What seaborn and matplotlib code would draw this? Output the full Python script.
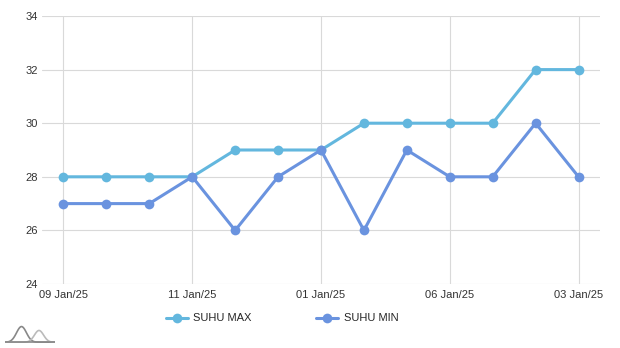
import numpy as np
import pandas as pd
import matplotlib
matplotlib.use("Agg")
import matplotlib.pyplot as plt
import seaborn as sns

labels = ["09 Jan/25", "", "", "11 Jan/25", "", "", "01 Jan/25", "", "", "06 Jan/25", "", "", "03 Jan/25"]
suhu_max = [28, 28, 28, 28, 29, 29, 29, 30, 30, 30, 30, 32, 32]
suhu_min = [27, 27, 27, 28, 26, 28, 29, 26, 29, 28, 28, 30, 28]
series_names = ["SUHU MAX", "SUHU MIN"]
colors = ["#63b7de", "#6a93df"]

sns.set_theme(style="white")
plt.rcParams['font.family'] = ['Liberation Sans', 'DejaVu Sans']

idx = list(range(len(labels)))
df = pd.DataFrame({
    "x": idx * 2,
    "y": suhu_max + suhu_min,
    "s": [series_names[0]] * len(idx) + [series_names[1]] * len(idx),
})

fig = plt.figure(figsize=(6.2, 3.48), dpi=100)
ax = fig.add_axes([42/620, 64/348, 558/620, 268/348])

sns.lineplot(data=df, x="x", y="y", hue="s", palette=colors, marker="o",
             markersize=7, markeredgewidth=0, linewidth=2.2, ax=ax, legend=False)

ax.set_xlim(-0.5, 12.5)
ax.set_ylim(24, 34)
ax.set_yticks(range(24, 35, 2))
tick_pos = [i for i, l in enumerate(labels) if l]
ax.set_xticks(tick_pos)
ax.set_xticklabels([labels[i] for i in tick_pos])
ax.set_xlabel("")
ax.set_ylabel("")
ax.grid(True, color="#d9d9d9", linewidth=0.8)
ax.set_axisbelow(True)
for sp in ax.spines.values():
    sp.set_visible(False)
ax.tick_params(axis="both", length=0, labelsize=8, colors="#333333", pad=3)
ax.tick_params(axis="x", pad=4)

from matplotlib.lines import Line2D
handles = [Line2D([0], [0], color=c, linewidth=2.2, marker="o", markersize=7, markeredgewidth=0)
           for c in colors]
fig.legend(handles, series_names, loc="center", bbox_to_anchor=(0.455, 0.085), ncol=2,
           frameon=False, fontsize=8, handlelength=2.0, columnspacing=5.8, handletextpad=0.5)

# small logo bottom-left
lax = fig.add_axes([5/620, 5/348, 50/620, 18/348])
t = np.linspace(0, 1, 100)
lax.plot(t, np.exp(-((t - 0.33) / 0.14) ** 2), color="#888888", linewidth=1.2)
lax.plot(t, 0.75 * np.exp(-((t - 0.68) / 0.13) ** 2), color="#bbbbbb", linewidth=1.2)
lax.plot([0, 1], [0, 0], color="#888888", linewidth=1.2)
lax.set_xlim(0, 1)
lax.set_ylim(-0.05, 1.1)
lax.axis("off")

fig.savefig("out.png", dpi=100)
